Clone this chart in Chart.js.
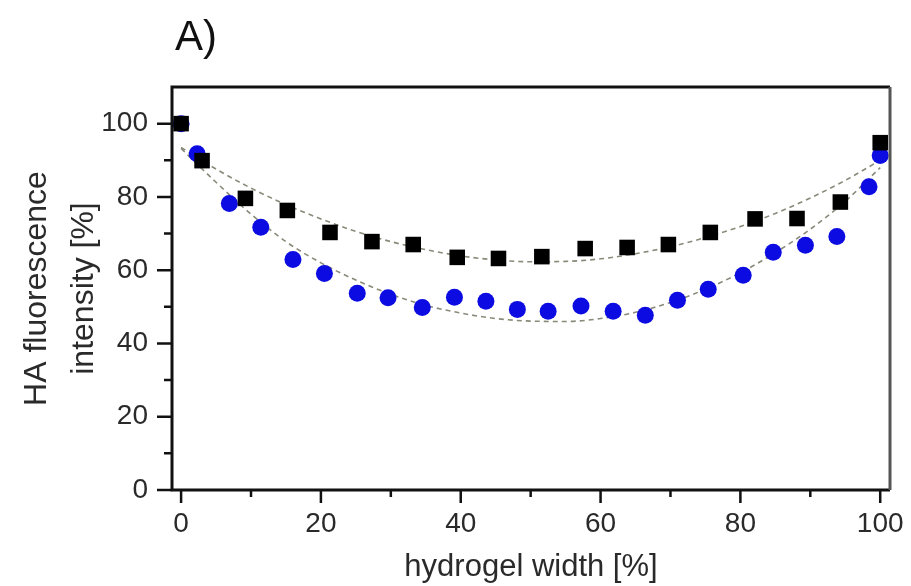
<!DOCTYPE html>
<html>
<head>
<meta charset="utf-8">
<title>HA fluorescence intensity</title>
<script src="https://cdn.jsdelivr.net/npm/chart.js@4.4.0/dist/chart.umd.min.js"></script>
<style>
  html, body { margin: 0; padding: 0; background: #fff; }
  #wrap { width: 911px; height: 586px; }
</style>
</head>
<body>
<div id="wrap"><canvas id="profileChart"></canvas></div>
<script>
// Intensity profile across the gel, squares series
const squareX = [0, 3.0, 9.2, 15.2, 21.3, 27.3, 33.2, 39.5, 45.4, 51.6, 57.8, 63.8, 69.7, 75.7, 82.1, 88.1, 94.3, 100];
const squareY = [100, 89.9, 79.6, 76.3, 70.3, 67.8, 67.0, 63.5, 63.2, 63.7, 65.9, 66.2, 67.0, 70.3, 74.0, 74.1, 78.6, 94.8];

// circles series
const circleX = [0, 2.3, 6.9, 11.4, 16.0, 20.5, 25.2, 29.6, 34.5, 39.1, 43.6, 48.1, 52.5, 57.2, 61.8, 66.4, 71.0, 75.4, 80.4, 84.7, 89.3, 93.8, 98.4, 100];
const circleY = [100, 91.8, 78.2, 71.7, 62.9, 59.1, 53.7, 52.5, 49.8, 52.6, 51.5, 49.3, 48.8, 50.2, 48.8, 47.7, 51.8, 54.8, 58.6, 64.9, 66.8, 69.2, 82.8, 91.3];

// fitted trend curves
const fitX = [0, 5, 10, 15, 20, 25, 30, 35, 40, 45, 50, 55, 60, 65, 70, 75, 80, 85, 90, 95, 100];
const fitSquareY = [93.5, 87.6, 82.4, 77.9, 74.0, 70.6, 67.8, 65.6, 63.9, 62.8, 62.3, 62.4, 63.1, 64.5, 66.4, 68.9, 71.9, 75.5, 79.7, 84.5, 90.0];
const fitCircleY = [93.2, 84.0, 75.3, 67.8, 62.0, 57.3, 53.4, 50.4, 48.3, 46.8, 46.1, 46.0, 46.8, 48.5, 51.2, 54.8, 59.3, 64.8, 71.2, 78.8, 88.0];

const xMajorTicks = [0, 20, 40, 60, 80, 100];
const xMinorTicks = [10, 30, 50, 70, 90];
const yMajorTicks = [0, 20, 40, 60, 80, 100];
const yMinorTicks = [10, 30, 50, 70, 90];

const FONT = "'Liberation Sans', Arial, sans-serif";
const TEXT_COLOR = '#2a2a2a';
const FIT_COLOR = '#8a8a7a';

function toPoints(xs, ys) {
    return xs.map((x, i) => ({ x: x, y: ys[i] }));
}

// box frame, outward tick marks and the panel letter
const framePlugin = {
    id: 'frame',
    afterDraw(chart) {
        const ctx = chart.ctx;
        const a = chart.chartArea;
        const xs = chart.scales.x;
        const ys = chart.scales.y;
        ctx.save();

        ctx.strokeStyle = '#111';
        ctx.lineWidth = 2.5;
        ctx.beginPath();
        xMajorTicks.forEach(v => {
            const px = xs.getPixelForValue(v);
            ctx.moveTo(px, a.bottom);
            ctx.lineTo(px, a.bottom + 13);
        });
        xMinorTicks.forEach(v => {
            const px = xs.getPixelForValue(v);
            ctx.moveTo(px, a.bottom);
            ctx.lineTo(px, a.bottom + 7);
        });
        yMajorTicks.forEach(v => {
            const py = ys.getPixelForValue(v);
            ctx.moveTo(a.left - 15, py);
            ctx.lineTo(a.left, py);
        });
        yMinorTicks.forEach(v => {
            const py = ys.getPixelForValue(v);
            ctx.moveTo(a.left - 8, py);
            ctx.lineTo(a.left, py);
        });
        ctx.stroke();

        ctx.lineWidth = 3;
        ctx.beginPath();
        ctx.moveTo(a.right, a.top);
        ctx.lineTo(a.left, a.top);
        ctx.lineTo(a.left, a.bottom);
        ctx.lineTo(a.right, a.bottom);
        ctx.stroke();

        ctx.strokeStyle = '#555';
        ctx.beginPath();
        ctx.moveTo(a.right, a.top);
        ctx.lineTo(a.right, a.bottom);
        ctx.stroke();

        ctx.fillStyle = '#111';
        ctx.font = '42px ' + FONT;
        ctx.textBaseline = 'alphabetic';
        ctx.textAlign = 'left';
        ctx.fillText('A)', 175, 50);
        ctx.restore();
    }
};

document.addEventListener('DOMContentLoaded', function() {
    const canvas = document.getElementById('profileChart');

    new Chart(canvas, {
        type: 'scatter',
        data: {
            datasets: [
                {
                    data: toPoints(squareX, squareY),
                    pointStyle: 'rect',
                    pointRadius: 11,
                    backgroundColor: '#000',
                    borderWidth: 0,
                    order: 0
                },
                {
                    data: toPoints(circleX, circleY),
                    pointStyle: 'circle',
                    pointRadius: 8.5,
                    backgroundColor: '#0b0be2',
                    borderWidth: 0,
                    order: 1
                },
                {
                    data: toPoints(fitX, fitSquareY),
                    showLine: true,
                    pointRadius: 0,
                    borderColor: FIT_COLOR,
                    borderWidth: 1.6,
                    borderDash: [5, 4],
                    cubicInterpolationMode: 'monotone',
                    order: 2
                },
                {
                    data: toPoints(fitX, fitCircleY),
                    showLine: true,
                    pointRadius: 0,
                    borderColor: FIT_COLOR,
                    borderWidth: 1.6,
                    borderDash: [5, 4],
                    cubicInterpolationMode: 'monotone',
                    order: 2
                }
            ]
        },
        options: {
            responsive: true,
            maintainAspectRatio: false,
            animation: false,
            layout: { padding: { top: 87, right: 21, left: 0, bottom: 0 } },
            plugins: {
                legend: { display: false },
                tooltip: { enabled: false }
            },
            scales: {
                x: {
                    type: 'linear',
                    min: -1.3,
                    max: 101.4,
                    afterBuildTicks: scale => {
                        scale.ticks = xMajorTicks.map(v => ({ value: v }));
                    },
                    afterFit: scale => {
                        scale.height = 96;
                        scale.paddingLeft = 0;
                        scale.paddingRight = 0;
                    },
                    grid: { display: false, drawTicks: false },
                    border: { display: false },
                    ticks: {
                        autoSkip: false,
                        maxRotation: 0,
                        padding: 17,
                        color: TEXT_COLOR,
                        font: { family: FONT, size: 28 }
                    },
                    title: {
                        display: true,
                        text: 'hydrogel width [%]',
                        color: TEXT_COLOR,
                        padding: { top: 0, bottom: 0 },
                        font: { family: FONT, size: 31, lineHeight: 1.2 }
                    }
                },
                y: {
                    type: 'linear',
                    min: 0,
                    max: 110,
                    afterBuildTicks: scale => {
                        scale.ticks = yMajorTicks.map(v => ({ value: v }));
                    },
                    afterFit: scale => {
                        scale.width = 172;
                        scale.paddingTop = 0;
                        scale.paddingBottom = 0;
                    },
                    grid: { display: false, drawTicks: false },
                    border: { display: false },
                    ticks: {
                        autoSkip: false,
                        padding: 24,
                        color: TEXT_COLOR,
                        font: { family: FONT, size: 28 }
                    },
                    title: {
                        display: true,
                        text: ['HA fluorescence', 'intensity [%]'],
                        color: TEXT_COLOR,
                        padding: { top: 14, bottom: 0 },
                        font: { family: FONT, size: 32, lineHeight: 1.47 }
                    }
                }
            }
        },
        plugins: [framePlugin]
    });
});
</script>
</body>
</html>
